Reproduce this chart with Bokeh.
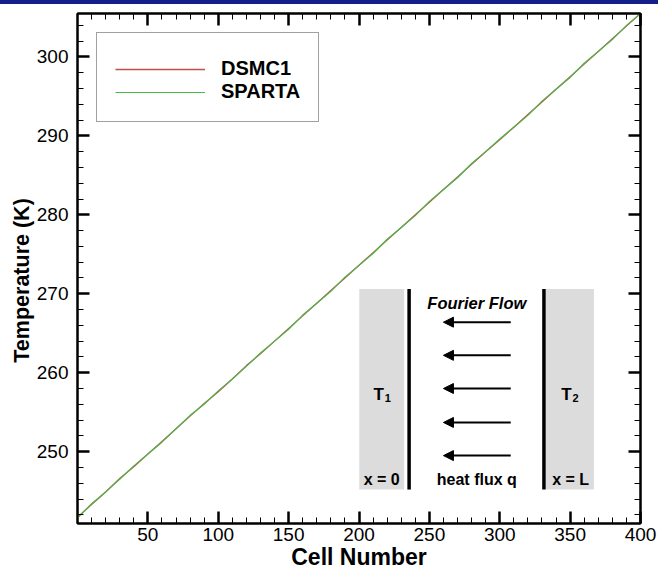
from bokeh.plotting import figure
from bokeh.models import (ColumnDataSource, LinearAxis, FixedTicker, Legend, LegendItem,
                          Arrow, NormalHead, Div)
from bokeh.layouts import column
from bokeh.core.properties import value
from bokeh.embed import file_html
from bokeh.resources import INLINE

# Temperature profile along the 1-D Fourier flow domain
cells = [0, 10, 20, 30, 40, 50, 60, 70, 80, 90, 100, 110, 120, 130, 140, 150, 160, 170,
         180, 190, 200, 210, 220, 230, 240, 250, 260, 270, 280, 290, 300, 310, 320, 330,
         340, 350, 360, 370, 380, 390, 400]
dsmc1 = [241.7, 243.3, 244.9, 246.6, 248.1, 249.7, 251.3, 252.9, 254.5, 256.1, 257.6,
         259.2, 260.9, 262.4, 264.0, 265.6, 267.2, 268.8, 270.4, 272.0, 273.6, 275.2,
         276.8, 278.4, 280.0, 281.6, 283.2, 284.8, 286.4, 288.0, 289.5, 291.1, 292.7,
         294.3, 295.9, 297.5, 299.1, 300.7, 302.3, 303.9, 305.5]
sparta = [241.6, 243.4, 244.9, 246.5, 248.2, 249.7, 251.2, 252.9, 254.6, 256.0, 257.7,
          259.2, 260.8, 262.5, 264.0, 265.5, 267.3, 268.8, 270.3, 272.1, 273.6, 275.1,
          276.9, 278.4, 279.9, 281.7, 283.2, 284.7, 286.5, 288.0, 289.6, 291.1, 292.6,
          294.4, 295.9, 297.4, 299.2, 300.7, 302.2, 304.0, 305.5]

x_ticks = [50, 100, 150, 200, 250, 300, 350, 400]
y_ticks = [250, 260, 270, 280, 290, 300]

FONT = "Liberation Sans"
NBSP = "\u00a0"

p = figure(width=658, height=568, output_backend="svg", toolbar_location=None,
           x_range=(0, 400), y_range=(240.9, 305.5),
           min_border_left=77, min_border_right=18, min_border_top=9, min_border_bottom=47,
           x_axis_label="Cell Number",
           y_axis_label="Temperature (K)" + NBSP * 4)
p.grid.visible = False
p.background_fill_color = "white"
p.border_fill_color = "white"
p.outline_line_color = "black"
p.outline_line_width = 2

src = ColumnDataSource(dict(c=cells, d=dsmc1, s=sparta))
r1 = p.line("c", "d", source=src, line_color="#c0504a", line_width=1.3)
r2 = p.line("c", "s", source=src, line_color="#4cb84c", line_width=1.2)

xt = FixedTicker(ticks=x_ticks, minor_ticks=list(range(0, 401, 10)))
yt = FixedTicker(ticks=y_ticks, minor_ticks=list(range(242, 306, 2)))


def style_axis(ax, ticker, show_labels, title_size="23px"):
    ax.ticker = ticker
    ax.axis_line_color = "black"
    ax.axis_line_width = 2
    ax.major_tick_in = 12
    ax.major_tick_out = 0
    ax.minor_tick_in = 6
    ax.minor_tick_out = 0
    ax.major_tick_line_width = 2.5
    ax.minor_tick_line_width = 1
    ax.major_tick_line_color = "black"
    ax.minor_tick_line_color = "black"
    ax.major_label_text_font = FONT
    ax.major_label_text_font_size = "19px"
    ax.major_label_text_color = "black"
    ax.axis_label_text_font = FONT
    ax.axis_label_text_font_size = title_size
    ax.axis_label_text_font_style = "bold"
    ax.axis_label_text_color = "black"
    if not show_labels:
        ax.major_label_text_alpha = 0
        ax.major_label_text_font_size = "1px"


style_axis(p.xaxis[0], xt, True)
style_axis(p.yaxis[0], yt, True, "21.5px")
p.xaxis[0].major_label_standoff = 4
p.xaxis[0].axis_label_standoff = 0
p.yaxis[0].major_label_standoff = 9
p.yaxis[0].axis_label_standoff = 0

top_ax = LinearAxis()
right_ax = LinearAxis()
style_axis(top_ax, xt, False)
style_axis(right_ax, yt, False)
p.add_layout(top_ax, "above")
p.add_layout(right_ax, "right")

legend = Legend(items=[LegendItem(label="DSMC1", renderers=[r1]),
                       LegendItem(label="SPARTA", renderers=[r2])],
                location="top_left")
legend.margin = 19
legend.padding = 18
legend.spacing = 0
legend.glyph_width = 90
legend.glyph_height = 20
legend.label_height = 20
legend.label_standoff = 16
legend.label_text_font = FONT
legend.label_text_font_size = "20px"
legend.label_text_font_style = "bold"
legend.label_text_color = "black"
legend.border_line_color = "#444444"
legend.border_line_width = 1
legend.background_fill_color = "white"
legend.background_fill_alpha = 1
legend.title = " "
legend.title_text_font_size = "5px"
legend.title_standoff = 0
p.add_layout(legend)

# Schematic of the heated channel
p.quad(left=[200.2, 332.6], right=[232.1, 366.9], bottom=[245.2, 245.2], top=[270.6, 270.6],
       fill_color="#dcdcdc", line_color=None)
p.segment(x0=[235.6, 331.4], x1=[235.6, 331.4], y0=[245.2, 245.2], y1=[270.6, 270.6],
          line_color="black", line_width=3.5)

arrow_y = [266.4, 262.2, 258.0, 253.7, 249.5]
arrows = ColumnDataSource(dict(xs=[307.8] * 5, xe=[260.0] * 5, y=arrow_y))
p.add_layout(Arrow(end=NormalHead(size=10, fill_color="black", line_color="black"),
                   x_start="xs", y_start="y", x_end="xe", y_end="y",
                   line_width=2, line_color="black", source=arrows))

txt = dict(text_font=value(FONT), text_font_style="bold", text_color="black",
           text_align="center", text_baseline="middle")
p.text(x=[283.7], y=[268.8], text=["Fourier Flow"], text_font_size="16.5px",
       **{**txt, "text_font_style": "bold italic"})
p.text(x=[283.7, 216.1, 350.4], y=[246.5, 246.5, 246.5],
       text=["heat flux q", "x = 0", "x = L"], text_font_size="16px", **txt)
p.text(x=[214.0, 347.4], y=[257.3, 257.3], text=["T", "T"], text_font_size="17px", **txt)
p.text(x=[214.0, 347.4], y=[257.3, 257.3], text=["1", "2"], text_font_size="11px",
       x_offset=9, y_offset=4, **txt)

bar = Div(width=658, height=4, styles={"background-color": "#13208a", "margin": "0"})
layout = column(bar, p, spacing=0)

open("out.html", "w").write(file_html(layout, INLINE))
